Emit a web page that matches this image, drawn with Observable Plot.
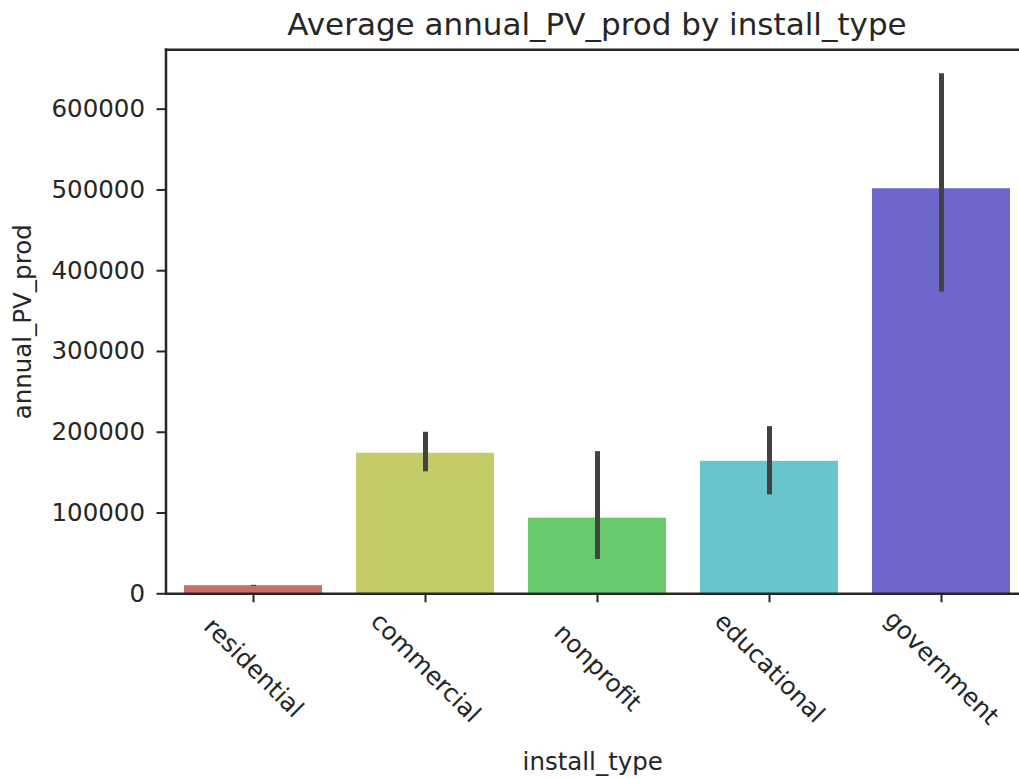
<!DOCTYPE html>
<html>
<head>
<meta charset="utf-8">
<script src="https://cdn.jsdelivr.net/npm/d3@7"></script>
<script src="https://cdn.jsdelivr.net/npm/@observablehq/plot@0.6"></script>
<style>
  html, body { margin: 0; padding: 0; background: #fff; overflow: hidden; }
  #title { position: relative; height: 45px; width: 1019px; }
  #title span {
    position: absolute; left: 597px; top: 9px; transform: translateX(-50%);
    font-family: "DejaVu Sans", sans-serif; font-size: 31px; line-height: 31px;
    color: #262626; white-space: nowrap;
  }
</style>
</head>
<body>
<div id="title"><span>Average annual_PV_prod by install_type</span></div>
<div id="chart"></div>
<script>
const categories = ["residential", "commercial", "nonprofit", "educational", "government"];
const means = [10000, 174000, 93600, 164000, 501500];
const ciLow = [9000, 151000, 42500, 122500, 373500];
const ciHigh = [10500, 200000, 176000, 207000, 644000];
const yTicks = [0, 100000, 200000, 300000, 400000, 500000, 600000];
const colors = ["#cb6d67", "#c5cb67", "#67cb6d", "#67c5cb", "#6d67cb"];
const yMax = 673500;

const data = categories.map((c, i) => ({type: c, mean: means[i], lo: ciLow[i], hi: ciHigh[i]}));

const ink = "#262626";
const chart = Plot.plot({
  width: 1019,
  height: 734,
  marginLeft: 165.5,
  marginRight: 0,
  marginTop: 4.3,
  marginBottom: 185.7,
  style: {fontFamily: "DejaVu Sans", fontSize: "24px", color: ink, background: "white"},
  x: {domain: categories, range: [165.5, 1029], paddingInner: 0.2, paddingOuter: 0.1},
  y: {domain: [0, yMax]},
  color: {domain: categories, range: colors},
  marks: [
    Plot.barY(data, {x: "type", y: "mean", fill: "type"}),
    Plot.ruleX(data, {x: "type", y1: "lo", y2: "hi", stroke: "#424242", strokeWidth: 5}),
    Plot.frame({anchor: "left", stroke: ink, strokeWidth: 2.5}),
    Plot.frame({anchor: "top", stroke: ink, strokeWidth: 2.5}),
    Plot.frame({anchor: "bottom", stroke: ink, strokeWidth: 2.5}),
    Plot.axisY({
      ticks: yTicks, tickFormat: d3.format("d"), tickSize: 9, tickPadding: 12,
      fontSize: 24.5, stroke: ink, strokeWidth: 2,
      label: "annual_PV_prod", labelAnchor: "center", labelArrow: "none", labelOffset: 152
    }),
    Plot.axisX({
      tickRotate: 45, textAnchor: "middle", lineAnchor: "middle",
      tickSize: 9, tickPadding: 65, fontSize: 24.5, stroke: ink, strokeWidth: 2,
      label: "install_type", labelAnchor: "center", labelArrow: "none", labelOffset: 176
    })
  ]
});
document.getElementById("chart").appendChild(chart);
</script>
</body>
</html>
